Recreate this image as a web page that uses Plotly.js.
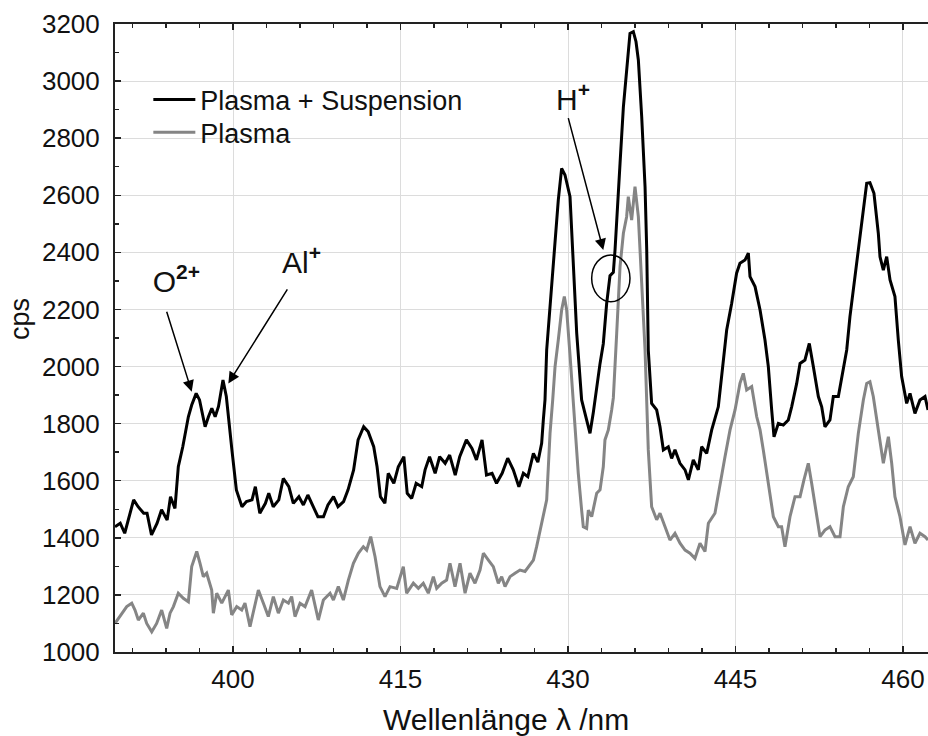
<!DOCTYPE html>
<html>
<head>
<meta charset="utf-8">
<script src="https://cdn.plot.ly/plotly-3.0.1.min.js"></script>
<style>
  html, body { margin: 0; padding: 0; background: #ffffff; }
  #chart { width: 928px; height: 736px; }
</style>
</head>
<body>
<div id="chart"></div>
<script>
// ---- Data ----
const suspensionWavelength = [
  389.43, 389.9, 390.3, 390.6, 391.1, 391.5, 392.0, 392.3, 392.7, 393.2,
  393.6, 394.1, 394.4, 394.8, 395.1, 395.5, 396.0, 396.3, 396.7, 397.0,
  397.5, 397.8, 398.1, 398.4, 398.7, 399.1, 399.4, 399.9, 400.3, 400.8,
  401.2, 401.7, 402.0, 402.4, 402.9, 403.2, 403.6, 404.1, 404.5, 405.0,
  405.4, 405.9, 406.3, 406.7, 407.2, 407.6, 408.1, 408.5, 409.0, 409.4,
  409.9, 410.3, 410.8, 411.2, 411.7, 412.1, 412.6, 412.9, 413.2, 413.6,
  413.9, 414.4, 414.8, 415.3, 415.6, 416.0, 416.4, 416.9, 417.2, 417.6,
  418.1, 418.5, 419.0, 419.4, 419.9, 420.3, 420.9, 421.4, 421.8, 422.3,
  422.7, 423.2, 423.6, 424.1, 424.6, 425.1, 425.6, 426.0, 426.4, 426.9,
  427.3, 427.64, 427.79, 427.94, 428.09, 428.54, 428.84, 429.13, 429.43, 429.73,
  430.18, 430.48, 430.78, 431.22, 431.67, 431.97, 432.27, 432.72, 432.87, 433.16,
  433.46, 433.76, 434.06, 434.21, 434.51, 434.66, 434.96, 435.25, 435.55, 435.85,
  436.09, 436.3, 436.6, 436.9, 437.05, 437.19, 437.49, 437.94, 438.24, 438.54,
  438.98, 439.28, 439.58, 440.03, 440.48, 440.78, 441.22, 441.67, 441.97, 442.42,
  442.87, 443.46, 443.76, 444.21, 444.66, 445.1, 445.4, 445.85, 446.15, 446.3,
  446.75, 447.2, 447.64, 447.94, 448.24, 448.45, 448.84, 449.28, 449.73, 450.03,
  450.48, 450.78, 451.22, 451.61, 451.97, 452.42, 452.72, 453.01, 453.46, 453.76,
  454.21, 454.66, 454.96, 455.25, 455.55, 455.85, 456.15, 456.45, 456.75, 457.04,
  457.4, 457.79, 457.94, 458.24, 458.54, 458.84, 459.28, 459.58, 459.88, 460.33,
  460.63, 461.07, 461.52, 461.97, 462.24
];
const suspensionCps = [
  1439, 1451, 1416, 1462, 1533, 1509, 1486, 1486, 1410, 1451,
  1498, 1462, 1544, 1503, 1649, 1719, 1824, 1865, 1906, 1883,
  1789, 1824, 1854, 1824, 1860, 1953, 1895, 1708, 1568, 1509,
  1527, 1533, 1579, 1486, 1521, 1556, 1509, 1533, 1608, 1579,
  1521, 1544, 1515, 1550, 1509, 1474, 1474, 1515, 1544, 1509,
  1527, 1568, 1638, 1743, 1789, 1772, 1719, 1649, 1544, 1521,
  1626, 1591, 1649, 1684, 1556, 1538, 1591, 1579, 1638, 1684,
  1626, 1684, 1661, 1690, 1620, 1684, 1743, 1713, 1673, 1743,
  1620, 1626, 1591, 1626, 1679, 1638, 1579, 1626, 1614, 1696,
  1665, 1731, 1813, 1883, 2058, 2292, 2420, 2583, 2694, 2671,
  2595, 2350, 2116, 1883, 1808, 1766, 1840, 1976, 2011, 2080,
  2220, 2318, 2330, 2408, 2642, 2712, 2910, 3051, 3167, 3173,
  3138, 3074, 2875, 2630, 2408, 2058, 1871, 1848, 1789, 1708,
  1719, 1678, 1708, 1661, 1638, 1603, 1673, 1638, 1719, 1696,
  1778, 1859, 1965, 2128, 2222, 2327, 2362, 2373, 2397, 2315,
  2280, 2198, 2093, 2000, 1848, 1754, 1801, 1795, 1813, 1859,
  1941, 2011, 2023, 2081, 2000, 1895, 1859, 1789, 1813, 1895,
  1895, 1988, 2058, 2175, 2268, 2362, 2467, 2560, 2642, 2644,
  2607, 2467, 2385, 2338, 2385, 2303, 2245, 2093, 1965, 1871,
  1906, 1836, 1883, 1895, 1848
];

const plasmaWavelength = [
  389.43, 389.88, 390.48, 390.93, 391.22, 391.52, 391.97, 392.27, 392.72, 393.16,
  393.61, 394.06, 394.36, 394.66, 395.1, 395.55, 396.0, 396.3, 396.75, 397.04,
  397.34, 397.64, 398.09, 398.24, 398.54, 398.99, 399.58, 399.88, 400.33, 400.78,
  401.07, 401.52, 401.82, 402.27, 402.72, 403.16, 403.61, 404.06, 404.51, 404.96,
  405.25, 405.55, 406.0, 406.45, 407.04, 407.64, 408.09, 408.69, 408.99, 409.43,
  409.88, 410.33, 410.78, 411.22, 411.67, 411.97, 412.33, 412.72, 413.16, 413.61,
  414.06, 414.66, 415.25, 415.55, 416.15, 416.6, 417.04, 417.49, 417.94, 418.24,
  418.69, 419.13, 419.43, 419.88, 420.33, 420.78, 421.22, 421.67, 422.12, 422.42,
  422.87, 423.31, 423.76, 424.06, 424.36, 424.81, 425.25, 425.7, 426.15, 426.6,
  426.9, 427.19, 427.49, 427.79, 428.09, 428.24, 428.39, 428.63, 428.84, 429.13,
  429.43, 429.67, 429.88, 430.18, 430.45, 430.7, 430.92, 431.22, 431.37, 431.67,
  431.82, 432.12, 432.57, 432.87, 433.16, 433.31, 433.61, 433.91, 434.06, 434.36,
  434.66, 434.96, 435.25, 435.4, 435.7, 436.0, 436.3, 436.6, 436.9, 437.19,
  437.49, 437.94, 438.24, 438.69, 439.13, 439.58, 440.03, 440.48, 440.92, 441.37,
  441.82, 442.27, 442.57, 443.16, 443.61, 444.06, 444.51, 444.96, 445.4, 445.7,
  446.0, 446.45, 446.9, 447.2, 447.49, 447.94, 448.39, 448.84, 449.13, 449.43,
  449.88, 450.33, 450.78, 451.13, 451.52, 451.82, 452.27, 452.57, 453.01, 453.46,
  453.91, 454.36, 454.66, 455.1, 455.55, 456.0, 456.45, 456.75, 457.04, 457.34,
  457.79, 458.24, 458.69, 458.99, 459.28, 459.73, 460.18, 460.63, 461.07, 461.52,
  461.97, 462.24
];
const plasmaCps = [
  1100, 1124, 1159, 1171, 1147, 1112, 1136, 1100, 1071, 1100,
  1147, 1083, 1136, 1159, 1206, 1188, 1176, 1299, 1352, 1311,
  1264, 1276, 1217, 1136, 1206, 1171, 1217, 1130, 1159, 1147,
  1171, 1089, 1136, 1217, 1171, 1124, 1194, 1136, 1182, 1171,
  1194, 1124, 1171, 1159, 1217, 1112, 1182, 1206, 1182, 1229,
  1182, 1252, 1311, 1346, 1369, 1357, 1404, 1334, 1229, 1194,
  1229, 1223, 1299, 1206, 1241, 1223, 1241, 1206, 1264, 1223,
  1241, 1252, 1311, 1229, 1311, 1206, 1276, 1241, 1287, 1346,
  1322, 1299, 1241, 1264, 1229, 1264, 1276, 1287, 1282, 1305,
  1322, 1369, 1428, 1486, 1533, 1649, 1766, 1883, 2000, 2093,
  2198, 2245, 2198, 2040, 1890, 1766, 1626, 1497, 1439, 1433,
  1497, 1474, 1556, 1568, 1649, 1743, 1778, 1848, 1890, 2116,
  2350, 2467, 2525, 2595, 2513, 2630, 2525, 2292, 2058, 1708,
  1509, 1463, 1486, 1439, 1392, 1416, 1381, 1357, 1346, 1328,
  1381, 1352, 1451, 1486, 1591, 1684, 1778, 1848, 1941, 1976,
  1918, 1930, 1824, 1778, 1708, 1591, 1474, 1439, 1439, 1369,
  1474, 1544, 1544, 1603, 1661, 1591, 1474, 1404, 1427, 1439,
  1404, 1404, 1509, 1579, 1614, 1766, 1883, 1941, 1947, 1895,
  1778, 1661, 1754, 1661, 1544, 1474, 1375, 1439, 1381, 1416,
  1404, 1392
];

const seriesNames = ["Plasma + Suspension", "Plasma"];
const xTickValues = [400, 415, 430, 445, 460];
const yTickValues = [1000, 1200, 1400, 1600, 1800, 2000, 2200, 2400, 2600, 2800, 3000, 3200];
const xAxisTitle = "Wellenlänge λ /nm";
const yAxisTitle = "cps";
const peakLabels = ["O<sup><b>2+</b></sup>", "Al<sup><b>+</b></sup>", "H<sup><b>+</b></sup>"];
const peakWavelength = [396.30, 399.58, 433.16];
const peakCps = [1912, 1941, 2408];

// ---- Chart ----
const FONT = "Liberation Sans, Arial, Helvetica, sans-serif";

const traces = [
  {
    x: plasmaWavelength, y: plasmaCps, name: seriesNames[1],
    type: "scatter", mode: "lines", legend: "legend2",
    line: { color: "#858585", width: 3 }
  },
  {
    x: suspensionWavelength, y: suspensionCps, name: seriesNames[0],
    type: "scatter", mode: "lines", legend: "legend",
    line: { color: "#000000", width: 3 }
  }
];

const axisCommon = {
  ticks: "inside", ticklen: 6, tickwidth: 1.5, tickcolor: "#222",
  showgrid: true, gridcolor: "#dcdcdc", gridwidth: 1,
  showline: true, linecolor: "#222", linewidth: 2,
  zeroline: false,
  tickfont: { family: FONT, size: 26, color: "#111" }
};

const legendCommon = {
  xanchor: "left", yanchor: "top",
  bgcolor: "rgba(0,0,0,0)", borderwidth: 0,
  itemwidth: 42,
  font: { family: FONT, size: 27, color: "#111" }
};

// label annotation whose arrow starts just under the label
function peakLabel(i, ax, ay, width, height, align) {
  const a = {
    x: peakWavelength[i], y: peakCps[i], xref: "x", yref: "y",
    text: peakLabels[i], showarrow: true,
    ax: ax, ay: ay, xanchor: "center", yanchor: "bottom",
    width: width, align: align, valign: "top",
    arrowhead: 2, arrowsize: 1.5, arrowwidth: 1.5, arrowcolor: "#000", standoff: 0,
    font: { family: FONT, size: 30, color: "#111" }
  };
  if (height) a.height = height;
  return a;
}

const layout = {
  width: 928, height: 736,
  margin: { l: 115, r: 0, t: 24, b: 84 },
  paper_bgcolor: "#ffffff", plot_bgcolor: "#ffffff",
  font: { family: FONT, color: "#111" },
  showlegend: true,
  legend: Object.assign({}, legendCommon, { x: 0.041, y: 0.918 }),
  legend2: Object.assign({}, legendCommon, { x: 0.041, y: 0.866 }),
  xaxis: Object.assign({}, axisCommon, {
    range: [389.43, 462.24],
    tickmode: "array", tickvals: xTickValues,
    mirror: "ticks",
    ticklabelstandoff: 3,
    minor: { dtick: 3, tick0: 400, ticks: "inside", ticklen: 4, tickcolor: "#222", showgrid: false }
  }),
  yaxis: Object.assign({}, axisCommon, {
    range: [1000, 3200],
    tickmode: "array", tickvals: yTickValues,
    mirror: false,
    ticklabelstandoff: 8,
    minor: { dtick: 100, tick0: 1000, ticks: "inside", ticklen: 4, tickcolor: "#222", showgrid: false }
  }),
  shapes: [
    { type: "circle", xref: "x", yref: "y", x0: 432.12, x1: 435.55, y0: 2227, y1: 2391,
      line: { color: "#000", width: 1.5 } }
  ],
  annotations: [
    { text: xAxisTitle, xref: "paper", yref: "paper", x: 0.481, y: -0.108,
      xanchor: "center", yanchor: "middle", showarrow: false,
      font: { family: FONT, size: 30, color: "#111" } },
    { text: yAxisTitle, xref: "paper", yref: "paper", x: -0.117, y: 0.53,
      xanchor: "center", yanchor: "middle", textangle: -90, showarrow: false,
      font: { family: FONT, size: 27, color: "#111" } },
    peakLabel(0, -25, -80, 66, 50, "right"),
    peakLabel(1, 59, -94, 68, 46, "right"),
    peakLabel(2, -35, -132, 44, null, "right")
  ]
};

Plotly.newPlot("chart", traces, layout, { staticPlot: true, displayModeBar: false });
</script>
</body>
</html>
